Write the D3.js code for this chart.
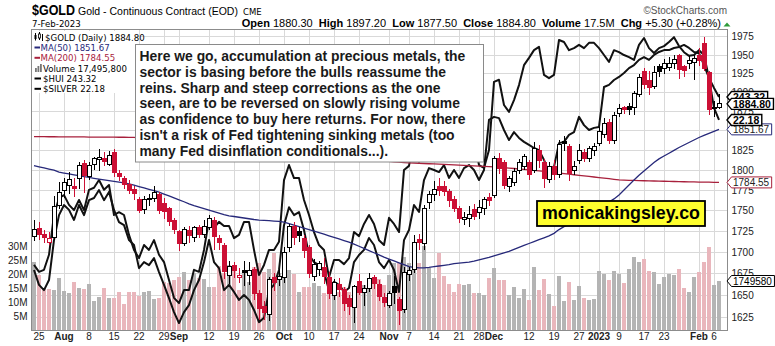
<!DOCTYPE html>
<html><head><meta charset="utf-8">
<script src="https://cdn.jsdelivr.net/npm/d3@7"></script>
<style>
body{margin:0;background:#fff;}
svg{display:block;}
</style></head>
<body><svg id="chart" width="775" height="346"></svg>
<script>
// Trading days shown on the chart
const dates = [
"2022-07-22","2022-07-25","2022-07-26","2022-07-27","2022-07-28","2022-07-29",
"2022-08-01","2022-08-02","2022-08-03","2022-08-04","2022-08-05",
"2022-08-08","2022-08-09","2022-08-10","2022-08-11","2022-08-12",
"2022-08-15","2022-08-16","2022-08-17","2022-08-18","2022-08-19",
"2022-08-22","2022-08-23","2022-08-24","2022-08-25","2022-08-26",
"2022-08-29","2022-08-30","2022-08-31","2022-09-01","2022-09-02",
"2022-09-06","2022-09-07","2022-09-08","2022-09-09",
"2022-09-12","2022-09-13","2022-09-14","2022-09-15","2022-09-16",
"2022-09-19","2022-09-20","2022-09-21","2022-09-22","2022-09-23",
"2022-09-26","2022-09-27","2022-09-28","2022-09-29","2022-09-30",
"2022-10-03","2022-10-04","2022-10-05","2022-10-06","2022-10-07",
"2022-10-10","2022-10-11","2022-10-12","2022-10-13","2022-10-14",
"2022-10-17","2022-10-18","2022-10-19","2022-10-20","2022-10-21",
"2022-10-24","2022-10-25","2022-10-26","2022-10-27","2022-10-28",
"2022-10-31","2022-11-01","2022-11-02","2022-11-03","2022-11-04",
"2022-11-07","2022-11-08","2022-11-09","2022-11-10","2022-11-11",
"2022-11-14","2022-11-15","2022-11-16","2022-11-17","2022-11-18",
"2022-11-21","2022-11-22","2022-11-23","2022-11-25",
"2022-11-28","2022-11-29","2022-11-30","2022-12-01","2022-12-02",
"2022-12-05","2022-12-06","2022-12-07","2022-12-08","2022-12-09",
"2022-12-12","2022-12-13","2022-12-14","2022-12-15","2022-12-16",
"2022-12-19","2022-12-20","2022-12-21","2022-12-22","2022-12-23",
"2022-12-27","2022-12-28","2022-12-29","2022-12-30",
"2023-01-03","2023-01-04","2023-01-05","2023-01-06",
"2023-01-09","2023-01-10","2023-01-11","2023-01-12","2023-01-13",
"2023-01-17","2023-01-18","2023-01-19","2023-01-20",
"2023-01-23","2023-01-24","2023-01-25","2023-01-26","2023-01-27",
"2023-01-30","2023-01-31","2023-02-01","2023-02-02","2023-02-03",
"2023-02-06","2023-02-07"];

const open = [1719,1728,1721,1712,1718,1756,1774,1781,1779,1789,
1808,1792,1807,1813,1814,1807,1822,1796,1790,1782,
1776,1764,1751,1763,1765,1770,1758,1752,1738,1725,
1710,1726,1717,1730,1721,1729,1738,1716,1708,1673,
1684,1670,1678,1673,1680,1652,1637,1628,1670,1668,
1670,1705,1731,1725,1716,1705,1672,1680,1682,1670,
1650,1662,1656,1646,1636,1666,1653,1657,1670,1662,
1647,1638,1660,1645,1633,1674,1680,1715,1710,1760,
1769,1779,1780,1773,1763,1753,1739,1740,1751,1748,
1753,1766,1768,1815,1810,1779,1785,1800,1805,1809,
1800,1824,1810,1788,1805,1795,1836,1830,1800,1812,
1822,1814,1824,1834,1845,1860,1837,1872,1880,1882,
1880,1897,1928,1916,1908,1934,1932,1933,1939,1949,
1934,1938,1940,1950,1966,1926,1880,1880.30];

const high = [1739,1736,1727,1724,1768,1785,1790,1797,1790,1810,
1812,1810,1817,1826,1823,1824,1827,1800,1793,1787,
1780,1766,1768,1770,1780,1773,1765,1754,1741,1727,
1730,1731,1731,1733,1738,1744,1742,1720,1711,1689,
1688,1681,1690,1688,1682,1656,1643,1671,1675,1680,
1706,1734,1736,1730,1720,1708,1692,1690,1693,1677,
1668,1670,1659,1650,1662,1674,1662,1675,1673,1667,
1652,1655,1672,1648,1682,1683,1720,1722,1757,1774,
1786,1790,1786,1776,1768,1756,1748,1755,1758,1763,
1767,1772,1818,1822,1812,1792,1802,1814,1820,1812,
1835,1832,1814,1810,1812,1838,1843,1833,1811,1833,
1827,1830,1834,1855,1866,1865,1874,1884,1882,1886,
1902,1925,1932,1928,1935,1938,1944,1947,1950,1952,
1937,1948,1950,1960,1975,1929,1888,1897.20];

const low = [1713,1714,1711,1709,1714,1752,1765,1770,1766,1776,
1772,1788,1800,1799,1805,1805,1791,1786,1776,1770,
1763,1747,1746,1756,1760,1746,1740,1731,1722,1701,
1707,1711,1712,1717,1717,1726,1702,1702,1668,1663,
1670,1664,1660,1662,1644,1622,1622,1621,1655,1660,
1664,1700,1708,1712,1693,1670,1666,1672,1663,1645,
1644,1648,1632,1627,1618,1650,1638,1654,1657,1643,
1636,1635,1640,1616,1630,1666,1675,1703,1702,1752,
1762,1768,1768,1754,1748,1735,1733,1730,1739,1740,
1745,1755,1765,1795,1776,1773,1780,1795,1800,1788,
1796,1803,1778,1784,1788,1790,1824,1786,1794,1808,
1810,1810,1818,1830,1840,1833,1833,1868,1871,1870,
1870,1894,1904,1896,1904,1920,1925,1928,1931,1918,
1921,1931,1917,1935,1928,1870,1868,1877.50];

const close = [1727,1721,1718,1716,1755,1772,1784,1788,1777,1806,
1793,1806,1814,1816,1811,1818,1797,1792,1782,1774,
1771,1750,1763,1765,1772,1750,1749,1737,1727,1710,
1727,1720,1729,1721,1731,1740,1719,1711,1677,1683,
1678,1673,1676,1678,1652,1635,1630,1668,1665,1672,
1700,1731,1718,1720,1702,1675,1685,1687,1671,1652,
1665,1656,1640,1637,1660,1653,1658,1669,1663,1648,
1642,1652,1653,1632,1676,1678,1712,1711,1753,1770,
1776,1775,1773,1762,1753,1740,1741,1745,1743,1754,
1763,1762,1815,1802,1781,1790,1798,1810,1817,1794,
1827,1812,1789,1805,1795,1832,1833,1796,1804,1825,
1815,1827,1830,1849,1859,1837,1869,1879,1877,1878,
1898,1920,1910,1907,1926,1928,1938,1939,1944,1930,
1929,1943,1945,1942,1932,1877,1879.50,1884.80];

// Daily volume, millions of contracts
const volumeM = [24.4,19.6,14.9,14.5,14.3,18.5,13.9,13.1,17.0,14.9,
14.5,16.3,10.4,11.9,15.1,11.5,11.3,13.4,9.3,13.4,
13.4,12.3,13.7,14.0,11.1,11.3,17.3,16.7,17.9,19.0,
20.6,17.9,20.2,18.5,18.1,15.2,15.2,22.9,20.2,23.2,
22.0,14.3,20.5,17.3,22.6,23.8,20.8,21.7,27.4,20.2,
19.0,21.4,20.0,13.7,15.5,15.5,16.9,15.7,13.1,18.5,
15.7,13.7,15.5,13.7,14.9,16.7,16.1,18.1,17.9,18.1,
16.1,19.6,23.8,24.0,26.0,24.0,28.6,24.0,30.0,22.0,
18.6,27.4,19.3,16.4,13.7,16.4,16.0,16.4,13.3,13.3,
12.5,18.6,22.0,17.9,17.7,12.5,15.4,11.4,14.6,10.7,
22.4,14.3,18.2,12.9,8.6,19.3,10.4,17.3,10.7,15.7,
11.4,10.7,10.9,21.2,20.0,17.9,20.9,20.0,16.9,21.8,
26.2,24.4,25.4,21.1,20.8,16.4,19.0,20.0,19.5,21.8,
14.9,13.7,19.0,20.8,24.4,29.8,16.1,17.4958];

const ma50 = [1805.4,1804.0,1802.6,1801.2,1799.9,1797.3,1796.2,1795.1,1794.0,1792.9,
1791.8,1790.7,1789.7,1788.7,1787.8,1786.8,1785.9,1784.9,1784.0,1782.7,
1781.1,1779.4,1777.7,1776.0,1774.4,1772.5,1770.1,1767.8,1765.4,1763.0,
1760.7,1758.2,1756.0,1754.2,1752.3,1750.5,1748.6,1746.7,1744.9,1743.6,
1742.7,1741.8,1740.9,1740.0,1739.1,1738.4,1738.0,1737.6,1737.2,1736.7,
1735.8,1734.1,1732.3,1730.5,1728.8,1727.0,1725.2,1723.3,1721.4,1719.5,
1717.6,1715.7,1713.8,1711.9,1709.5,1707.0,1704.4,1701.9,1699.3,1696.8,
1694.1,1691.9,1689.7,1687.5,1685.3,1683.1,1682.0,1681.4,1681.5,1682.1,
1682.9,1683.7,1684.5,1685.3,1686.5,1687.1,1687.7,1688.3,1689.4,1690.9,
1692.4,1693.9,1695.7,1697.5,1699.2,1701.0,1703.4,1705.7,1708.0,1710.3,
1712.5,1714.8,1717.1,1719.4,1722.4,1726.9,1730.5,1733.2,1736.0,1739.4,
1742.7,1746.0,1749.4,1752.7,1756.5,1760.4,1764.2,1769.0,1775.2,1781.3,
1787.6,1793.4,1798.8,1804.1,1809.5,1814.0,1817.6,1821.2,1824.8,1828.4,
1831.6,1834.8,1838.0,1841.2,1843.9,1846.5,1849.1,1851.67];

const ma200 = [1842.4,1842.3,1842.3,1842.2,1842.2,1842.1,1842.1,1842.0,1842.0,1841.9,
1841.9,1841.8,1841.8,1841.7,1841.7,1841.6,1841.6,1841.5,1841.5,1841.4,
1841.4,1840.8,1840.2,1839.6,1839.0,1838.4,1837.8,1837.2,1836.6,1836.0,
1835.4,1834.8,1834.2,1833.6,1833.0,1832.4,1831.8,1831.2,1830.6,1830.0,
1829.4,1828.8,1828.2,1827.6,1827.0,1826.4,1825.8,1825.2,1824.6,1824.0,
1823.4,1822.8,1822.2,1821.6,1821.0,1820.4,1819.8,1819.2,1818.6,1818.0,
1817.4,1816.8,1816.2,1815.6,1815.0,1814.4,1813.8,1813.2,1812.6,1812.0,
1811.4,1810.8,1810.3,1809.8,1809.4,1809.1,1808.8,1808.5,1808.2,1807.9,
1807.6,1807.3,1807.0,1806.7,1806.4,1806.1,1805.8,1805.5,1805.2,1804.9,
1804.6,1804.3,1804.0,1803.8,1803.1,1802.5,1801.9,1801.3,1800.7,1800.1,
1799.5,1798.9,1798.3,1797.6,1797.0,1796.3,1795.6,1794.8,1794.1,1793.4,
1792.7,1792.0,1791.3,1790.6,1789.9,1789.2,1788.4,1787.6,1787.4,1787.2,
1787.0,1786.8,1786.6,1786.5,1786.3,1786.2,1786.0,1785.9,1785.7,1785.6,
1785.4,1785.3,1785.2,1785.0,1784.9,1784.8,1784.7,1784.55];

const hui = [186.6,181.7,180.0,183.3,196.4,204.6,207.9,206.3,203.0,207.9,
204.6,209.5,210.2,212.8,209.5,212.2,206.3,202.3,201.3,196.4,
194.8,187.2,189.2,188.2,190.5,185.9,181.7,177.4,172.8,169.2,
172.8,175.1,180.0,183.3,189.2,196.4,189.2,187.2,180.0,181.7,
179.4,176.8,178.4,176.8,173.5,169.5,170.9,180.0,181.7,186.6,
201.3,207.2,204.6,205.6,199.7,191.5,189.2,188.2,185.9,180.0,
182.7,181.7,179.4,180.7,189.2,191.5,193.2,197.1,194.8,189.2,
187.2,189.9,186.6,179.4,196.4,199.7,207.9,205.6,216.1,220.0,
219.4,218.7,221.0,216.8,219.4,216.8,220.0,221.0,219.4,216.1,
219.4,235.8,236.8,236.4,232.5,229.2,231.8,229.9,228.6,227.6,
226.6,225.9,222.7,218.4,220.4,228.2,228.6,230.9,231.8,236.8,
234.1,232.5,233.2,233.5,246.6,247.3,248.9,249.9,251.2,252.8,
253.8,255.5,256.4,255.5,257.1,258.1,258.7,258.7,259.4,259.7,
260.4,259.4,258.1,257.7,253.8,249.6,246.3,243.32];

const silver = [18.61,18.44,18.49,18.86,19.84,20.26,20.33,20.09,19.96,20.21,
19.96,20.46,20.51,20.70,20.46,20.58,19.84,19.91,19.84,19.35,
18.98,18.78,19.10,18.98,19.22,18.86,18.68,18.24,17.80,17.67,
17.99,17.99,18.49,18.44,18.98,19.72,19.52,19.67,19.57,19.57,
19.27,19.35,19.67,19.67,18.98,18.36,18.61,18.98,18.98,19.18,
20.70,21.07,20.75,20.75,20.21,19.84,19.42,19.10,18.98,18.31,
18.73,18.73,18.63,18.78,19.42,19.32,19.62,19.84,19.62,19.22,
19.10,19.77,19.62,19.42,20.95,21.05,21.74,21.15,21.81,21.44,
21.69,21.81,21.56,21.19,21.32,21.19,21.44,21.49,21.69,21.07,
21.00,21.44,23.12,23.17,22.55,22.38,22.67,23.04,23.53,23.71,
23.90,23.98,23.29,23.21,23.29,24.15,24.10,23.90,23.95,24.03,
23.95,24.08,24.08,23.95,23.78,23.61,23.90,23.85,23.78,23.73,
23.66,24.03,24.20,23.95,23.83,23.95,24.00,24.10,24.22,24.00,
23.85,23.76,23.78,23.90,23.78,23.21,22.48,22.18];

const priceTicks = [1625,1650,1675,1700,1725,1750,1775,1800,1825,1850,1875,1900,1925,1950,1975];
const volumeTicks = [5,10,15,20,25,30];
const tickDates = ["2022-07-25","2022-08-01","2022-08-08","2022-08-15","2022-08-22","2022-08-29",
"2022-09-01","2022-09-12","2022-09-19","2022-09-26","2022-10-03","2022-10-10","2022-10-17",
"2022-10-24","2022-11-01","2022-11-07","2022-11-14","2022-11-21","2022-11-28","2022-12-01",
"2022-12-12","2022-12-19","2022-12-27","2023-01-03","2023-01-09","2023-01-17","2023-01-23",
"2023-02-01","2023-02-06"];
const tickLabels = ["25","Aug","8","15","22","29","Sep","12","19","26","Oct","10","17","24",
"Nov","7","14","21","28","Dec","12","19","27","2023","9","17","23","Feb","6"];

const lastVolume = 17495800;
const noteLines = [
"Here we go, accumulation at precious metals, the",
"sector is basing before the bulls reassume the",
"reins. Sharp and steep corrections as the one",
"seen, are to be reversed on slowly rising volume",
"as confidence to buy here returns. For now, there",
"isn't a risk of Fed tightening sinking metals (too",
"many Fed disinflation conditionals...)."];

// ---------- drawing ----------
const SANS = "'Liberation Sans', Arial, sans-serif";
const TAHOMA = "'DejaVu Sans', Verdana, sans-serif";
const RED = "#cc1035", NAVY = "#27297a", MAROON = "#a8203c";
const L = 31.5, R = 727.5, T = 29.5, B = 330.5;

const svg = d3.select("#chart");
const bars = dates.map((d, i) => ({
  d, i, o: open[i], h: high[i], l: low[i], c: close[i], v: volumeM[i],
  up: i === 0 ? true : close[i] >= close[i - 1]
}));

const x = d3.scaleBand().domain(dates).range([31.5, 721.5]);
const xc = d => x(d) + x.bandwidth() / 2;
const y = d3.scaleLog().domain([1625, 1975]).range([317, 36.7]);
const yv = d3.scaleLinear().domain([0, 30]).range([330, 246]);
const yh = d3.scaleLinear().domain([160, 275]).range([351.1, 0.4]);
const ys = d3.scaleLinear().domain([17, 25]).range([330.3, 5.5]);

svg.append("defs").append("clipPath").attr("id", "clip")
  .append("rect").attr("x", L).attr("y", T).attr("width", R - L).attr("height", B - T);

// grid
const grid = svg.append("g").attr("stroke", "#d9d9d9").attr("stroke-width", 1).attr("shape-rendering", "crispEdges");
grid.selectAll("line.h").data(priceTicks).join("line")
  .attr("x1", L).attr("x2", R).attr("y1", d => y(d)).attr("y2", d => y(d));
grid.selectAll("line.v").data(tickDates).join("line")
  .attr("x1", d => xc(d)).attr("x2", d => xc(d)).attr("y1", T).attr("y2", B);

const plot = svg.append("g").attr("clip-path", "url(#clip)");

// volume
plot.append("g").attr("shape-rendering", "crispEdges").selectAll("rect").data(bars).join("rect")
  .attr("x", b => x(b.d) + 0.5).attr("width", 4)
  .attr("y", b => yv(b.v)).attr("height", b => yv(0) - yv(b.v))
  .attr("fill", b => b.up ? "#b4b4b4" : "#e9b6bc");

// overlays
const lineGen = (sc, arr) => d3.line().x((v, i) => xc(dates[i])).y(v => sc(v))(arr);
plot.append("path").attr("d", lineGen(yh, hui)).attr("fill", "none").attr("stroke", "#111").attr("stroke-width", 2).attr("stroke-linejoin", "round");
plot.append("path").attr("d", lineGen(ys, silver)).attr("fill", "none").attr("stroke", "#111").attr("stroke-width", 2).attr("stroke-linejoin", "round");
plot.append("path").attr("d", lineGen(y, ma200)).attr("fill", "none").attr("stroke", MAROON).attr("stroke-width", 1.3);
plot.append("path").attr("d", lineGen(y, ma50)).attr("fill", "none").attr("stroke", NAVY).attr("stroke-width", 1.3);

// candles
const cg = plot.append("g").attr("shape-rendering", "crispEdges");
const col = b => b.up ? "#000" : RED;
cg.selectAll("line").data(bars).join("line")
  .attr("x1", b => xc(b.d)).attr("x2", b => xc(b.d))
  .attr("y1", b => y(b.h)).attr("y2", b => y(b.l)).attr("stroke", col);
cg.selectAll("rect").data(bars).join("rect")
  .attr("x", b => xc(b.d) - 2).attr("width", 4)
  .attr("y", b => y(Math.max(b.o, b.c)))
  .attr("height", b => Math.max(1, Math.abs(y(b.o) - y(b.c))))
  .attr("fill", b => b.c >= b.o ? "#fff" : col(b))
  .attr("stroke", col).attr("stroke-width", 1);

// frame
svg.append("rect").attr("x", L).attr("y", T).attr("width", R - L).attr("height", B - T)
  .attr("fill", "none").attr("stroke", "#8c8c8c").attr("shape-rendering", "crispEdges");

// axes
const ax = svg.append("g").attr("transform", `translate(${R},0)`)
  .call(d3.axisRight(y).tickValues(priceTicks).tickFormat(d3.format("d")).tickSize(0).tickPadding(4));
const axv = svg.append("g").attr("transform", `translate(${L},0)`)
  .call(d3.axisLeft(yv).tickValues(volumeTicks).tickFormat(d => d + "M").tickSize(0).tickPadding(4));
const axx = svg.append("g").attr("transform", `translate(0,${B})`)
  .call(d3.axisBottom(x).tickValues(tickDates).tickFormat((d, i) => tickLabels[i]).tickSize(0).tickPadding(2));
[ax, axv, axx].forEach(g => {
  g.select(".domain").remove();
  g.selectAll("text").attr("font-family", SANS).attr("font-size", 10).attr("fill", "#222");
});
axx.selectAll("text").attr("font-weight", (d, i) => /^[A-Z]|2023/.test(tickLabels[i]) ? "bold" : null);

// value tags on the right
function tag(yy, label, stroke, bold, txt) {
  const g = svg.append("g");
  const t = g.append("text").attr("x", 733).attr("y", yy).attr("dy", "0.36em")
    .attr("font-family", SANS).attr("font-size", bold ? 10.5 : 10)
    .attr("font-weight", bold ? "bold" : null).attr("fill", txt || "#000").text(label);
  const w = t.node().getComputedTextLength();
  g.insert("path", "text").attr("d",
    `M${R - 0.5},${yy} L${R + 4},${yy - 5.5} L${734 + w + 1.5},${yy - 5.5} L${734 + w + 1.5},${yy + 5.5} L${R + 4},${yy + 5.5} Z`)
    .attr("fill", "#fff").attr("stroke", stroke).attr("stroke-width", bold ? 1.4 : 1);
}
const n = dates.length - 1;
tag(yh(hui[n]), hui[n].toFixed(2), "#000", true);
tag(y(close[n]), close[n].toFixed(2), "#000", true);
tag(yv(volumeM[n]), String(lastVolume).slice(0, 7), "#000", false);
tag(y(ma200[n]), ma200[n].toFixed(2), MAROON, false, "#222");
tag(y(ma50[n]), ma50[n].toFixed(2), NAVY, false, "#222");
tag(ys(silver[n]), silver[n].toFixed(2), "#000", true);

// header
svg.append("text").attr("x", 32).attr("y", 15).attr("font-family", SANS).attr("font-weight", "bold")
  .attr("font-size", 14).attr("textLength", 43).attr("lengthAdjust", "spacingAndGlyphs").text("$GOLD");
svg.append("text").attr("x", 78).attr("y", 15).attr("font-family", SANS).attr("font-size", 10.5)
  .text("Gold - Continuous Contract (EOD)");
svg.append("text").attr("x", 243).attr("y", 15).attr("font-family", TAHOMA).attr("font-size", 8.5).text("CME");
svg.append("text").attr("x", 32).attr("y", 27).attr("font-family", TAHOMA).attr("font-size", 8.6).text("7-Feb-2023");
svg.append("text").attr("x", 727).attr("y", 14).attr("text-anchor", "end").attr("font-family", SANS)
  .attr("font-size", 10).attr("fill", "#555").text("\u00A9StockCharts.com");
const chg = close[n] - close[n - 1];
const quote = svg.append("text").attr("x", 721).attr("y", 27).attr("text-anchor", "end")
  .attr("font-family", SANS).attr("font-size", 11);
[["Open", open[n].toFixed(2)], ["High", high[n].toFixed(2)], ["Low", low[n].toFixed(2)],
 ["Close", close[n].toFixed(2)], ["Volume", (lastVolume / 1e6).toFixed(1) + "M"],
 ["Chg", `+${chg.toFixed(2)} (+${(chg / close[n - 1] * 100).toFixed(2)}%)`]].forEach(([k, v], i) => {
  quote.append("tspan").attr("font-weight", "bold").text((i ? "  " : "") + k + " ");
  quote.append("tspan").text(v);
});
quote.attr("xml:space", "preserve").style("white-space", "pre");
svg.append("path").attr("d", "M723.5,26.5 L727,22.5 L730.5,26.5 Z").attr("fill", "#2e9b3a");

// legend
const lg = svg.append("g").attr("font-family", TAHOMA).attr("font-size", 8.6);
lg.append("rect").attr("x", 32).attr("y", 31).attr("width", 103).attr("height", 62).attr("fill", "#fff");
// candle glyph
lg.append("path").attr("d", "M35.5,33 V40.5 M39.5,32 V40 M42.5,34 V41").attr("stroke", "#000");
lg.append("rect").attr("x", 34.5).attr("y", 35).attr("width", 2).attr("height", 4).attr("fill", "#000");
lg.append("rect").attr("x", 38.5).attr("y", 34).attr("width", 2).attr("height", 4).attr("fill", "#fff").attr("stroke", "#000").attr("stroke-width", 0.8);
lg.append("text").attr("x", 45).attr("y", 40.5).text(`$GOLD (Daily) ${close[n].toFixed(2)}`);
lg.append("line").attr("x1", 34.5).attr("x2", 40).attr("y1", 47.5).attr("y2", 47.5).attr("stroke", NAVY).attr("stroke-width", 2);
lg.append("text").attr("x", 40.5).attr("y", 51).attr("fill", NAVY).text(`MA(50) ${ma50[n].toFixed(2)}`);
lg.append("line").attr("x1", 34.5).attr("x2", 40).attr("y1", 57.8).attr("y2", 57.8).attr("stroke", MAROON).attr("stroke-width", 2);
lg.append("text").attr("x", 40.5).attr("y", 61.3).attr("fill", MAROON).text(`MA(200) ${ma200[n].toFixed(2)}`);
[[35, 4], [37.5, 6], [40, 8]].forEach(([bx, bh]) =>
  lg.append("rect").attr("x", bx).attr("y", 72 - bh).attr("width", 1.8).attr("height", bh).attr("fill", "#777"));
lg.append("text").attr("x", 43).attr("y", 71.6).text(`Volume ${d3.format(",")(lastVolume)}`);
lg.append("line").attr("x1", 34.5).attr("x2", 41).attr("y1", 78.5).attr("y2", 78.5).attr("stroke", "#000").attr("stroke-width", 2);
lg.append("text").attr("x", 43).attr("y", 81.9).text(`$HUI ${hui[n].toFixed(2)}`);
lg.append("line").attr("x1", 34.5).attr("x2", 41).attr("y1", 88.8).attr("y2", 88.8).attr("stroke", "#000").attr("stroke-width", 2);
lg.append("text").attr("x", 43).attr("y", 92.2).text(`$SILVER ${silver[n].toFixed(2)}`);

// commentary box
const nb = svg.append("g");
nb.append("rect").attr("x", 135.5).attr("y", 44.5).attr("width", 348).attr("height", 117.5)
  .attr("fill", "#fff").attr("stroke", "#8a8a8a");
const nt = nb.append("text").attr("font-family", SANS).attr("font-weight", "bold").attr("font-size", 12).attr("fill", "#1a1a1a");
nt.selectAll("tspan").data(noteLines).join("tspan").attr("x", 139.5).attr("y", (d, i) => 61 + i * 15.8).text(d => d);
const firstW = nt.select("tspan").node().getComputedTextLength();
nt.attr("font-size", 12 * 326 / firstW);

// site banner
const sb = svg.append("g");
sb.append("rect").attr("x", 537).attr("y", 201).attr("width", 168).attr("height", 25)
  .attr("fill", "#ffff2e").attr("stroke", "#000").attr("stroke-width", 1.8);
const st = sb.append("text").attr("x", 621).attr("y", 219).attr("text-anchor", "middle")
  .attr("font-family", SANS).attr("font-weight", "bold").attr("font-size", 19).text("monicakingsley.co");
const sw = st.node().getComputedTextLength();
st.attr("font-size", 19 * 158 / sw);
</script></body></html>
